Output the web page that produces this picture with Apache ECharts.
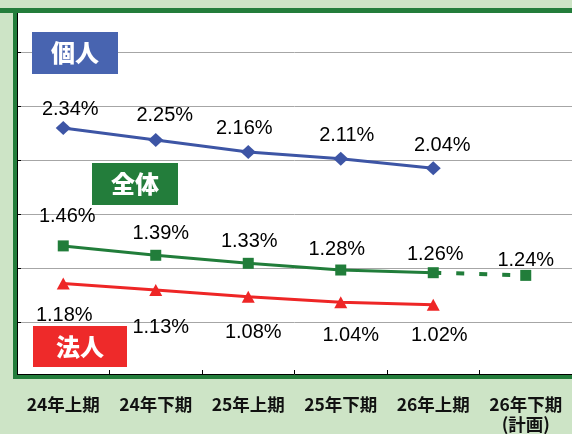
<!DOCTYPE html>
<html><head><meta charset="utf-8">
<script src="https://cdn.jsdelivr.net/npm/echarts@6/dist/echarts.min.js"></script>
<style>html,body{margin:0;padding:0;background:#cde4c6;}#c{width:572px;height:434px;}</style>
</head><body><div id="c"></div>
<script>
const categories = ['24年上期', '24年下期', '25年上期', '25年下期', '26年上期', '26年下期\n(計画)'];
const kojin = [2.34, 2.25, 2.16, 2.11, 2.04, null];
const zentai = [1.46, 1.39, 1.33, 1.28, 1.26, null];
const zentaiPlan = [null, null, null, null, 1.26, 1.24];
const hojin = [1.18, 1.13, 1.08, 1.04, 1.02, null];
const seriesNames = ['個人', '全体', '法人'];

const BLUE = '#3d55a5', BLUEBOX = '#4864b0';
const GREEN = '#217d3a', GREENBOX = '#237d3b';
const RED = '#ee2626', REDBOX = '#ee2a2a';
const BORDER = '#237d3b';

// label placement tweaks (styling only)
const kojinLabelOff = [[7, -18], [9, -25], [-4, -24], [6, -23], [9, -23]];
const zentaiLabelOff = [[4, -29], [5, -22], [1, -22], [-4, -21], [2, -18]];
const planLabelOff = [0, -15];
const hojinLabelOff = [[1, 32], [5, 37], [5, 36], [10, 33], [6, 31]];

const chart = echarts.init(document.getElementById('c'), null, {renderer: 'canvas'});
const labelBase = {
  show: true, position: 'inside', color: '#000',
  fontFamily: '"Liberation Sans", Arial, sans-serif', fontSize: 20,
  formatter: p => p.value == null ? '' : Number(p.value).toFixed(2) + '%'
};
function withOffsets(vals, offs) {
  return vals.map((v, i) => (v == null ? v : {value: v, label: {offset: offs[i]}}));
}
function box(x, y, w, h, fill, text) {
  return {
    type: 'group', z: 20, children: [
      {type: 'rect', shape: {x: x, y: y, width: w, height: h}, style: {fill: fill}, z: 20},
      {type: 'text', x: x + w / 2, y: y + h / 2, z: 21,
        style: {text: text, fill: '#fff', font: '900 24px "Noto Sans CJK JP"', align: 'center', verticalAlign: 'middle'}}
    ]
  };
}
const planData = zentaiPlan.map((v, i) => {
  if (v == null) return v;
  if (i === 4) return {value: v, symbol: 'none', label: {show: false}};
  return {value: v, label: {offset: planLabelOff}};
});

chart.setOption({
  backgroundColor: '#cde4c6',
  animation: false,
  grid: [
    {left: 17, right: -7, top: 11, bottom: 60, show: true, backgroundColor: '#fff', borderWidth: 0},
    {left: 17, right: -7, top: 11, bottom: 57.4, show: false}
  ],
  xAxis: [
    {type: 'category', gridIndex: 0, data: categories, boundaryGap: true,
      axisLine: {show: true, lineStyle: {color: '#000', width: 1}},
      axisTick: {show: true, inside: true, length: 4, lineStyle: {color: '#000'}},
      axisLabel: {color: '#111', fontWeight: 'bold', fontSize: 17.5, margin: 20, lineHeight: 20,
        fontFamily: '"Noto Sans CJK JP", sans-serif', interval: 0}},
    {type: 'category', gridIndex: 1, data: categories, show: false}
  ],
  yAxis: [
    {type: 'value', gridIndex: 0, min: 0.504, max: 3.213, show: false, splitLine: {show: false}},
    {type: 'value', gridIndex: 1, min: 0, max: 6.758, interval: 1,
      axisLine: {show: true, lineStyle: {color: '#000', width: 1}},
      axisTick: {show: true, inside: true, length: 4, lineStyle: {color: '#000'}},
      axisLabel: {show: false},
      splitLine: {show: true, lineStyle: {color: '#a6a6a6', width: 1}}}
  ],
  series: [
    {name: seriesNames[0], type: 'line', data: withOffsets(kojin, kojinLabelOff), symbol: 'diamond', symbolSize: [15, 14],
      itemStyle: {color: BLUE}, lineStyle: {color: BLUE, width: 3},
      label: labelBase, z: 5},
    {name: seriesNames[1], type: 'line', data: withOffsets(zentai, zentaiLabelOff), symbol: 'rect', symbolSize: 11,
      itemStyle: {color: GREEN}, lineStyle: {color: GREEN, width: 3},
      label: labelBase, z: 5},
    {name: seriesNames[1] + '計画', type: 'line', data: planData, symbol: 'rect', symbolSize: 11,
      itemStyle: {color: GREEN}, lineStyle: {color: GREEN, width: 4, type: [8, 15]},
      label: labelBase, z: 4},
    {name: seriesNames[2], type: 'line', data: withOffsets(hojin, hojinLabelOff), symbol: 'triangle', symbolSize: [13, 12],
      itemStyle: {color: RED}, lineStyle: {color: RED, width: 3},
      label: labelBase, z: 5}
  ],
  graphic: [
    {type: 'rect', shape: {x: 0, y: 8, width: 572, height: 5}, style: {fill: BORDER}, z: 10},
    {type: 'rect', shape: {x: 13, y: 8, width: 4, height: 371}, style: {fill: BORDER}, z: 10},
    {type: 'rect', shape: {x: 13, y: 375, width: 559, height: 4}, style: {fill: BORDER}, z: 10},
    box(32, 32, 86, 42, BLUEBOX, seriesNames[0]),
    box(92, 163, 86, 42, GREENBOX, seriesNames[1]),
    box(33, 326, 94, 41, REDBOX, seriesNames[2])
  ]
});
</script></body></html>
